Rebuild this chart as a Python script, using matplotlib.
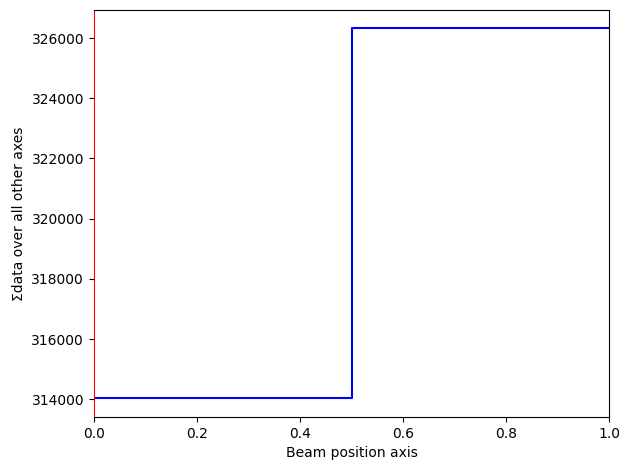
import numpy as np
import matplotlib
matplotlib.use("Agg")
import matplotlib.pyplot as plt

positions = [0.0, 0.5, 1.0]
sums = [314030, 326320, 326320]

fig, ax = plt.subplots(figsize=(6.3, 4.7), dpi=100)
ax.plot(positions, sums, drawstyle='steps-post', color='blue')
ax.spines['left'].set_color('red')
ax.set_xlim(0, 1)
ax.set_xlabel("Beam position axis")
ax.set_ylabel("\u03a3data over all other axes")
fig.subplots_adjust(left=0.149, right=0.967, top=0.979, bottom=0.113)
fig.savefig("out.png")
